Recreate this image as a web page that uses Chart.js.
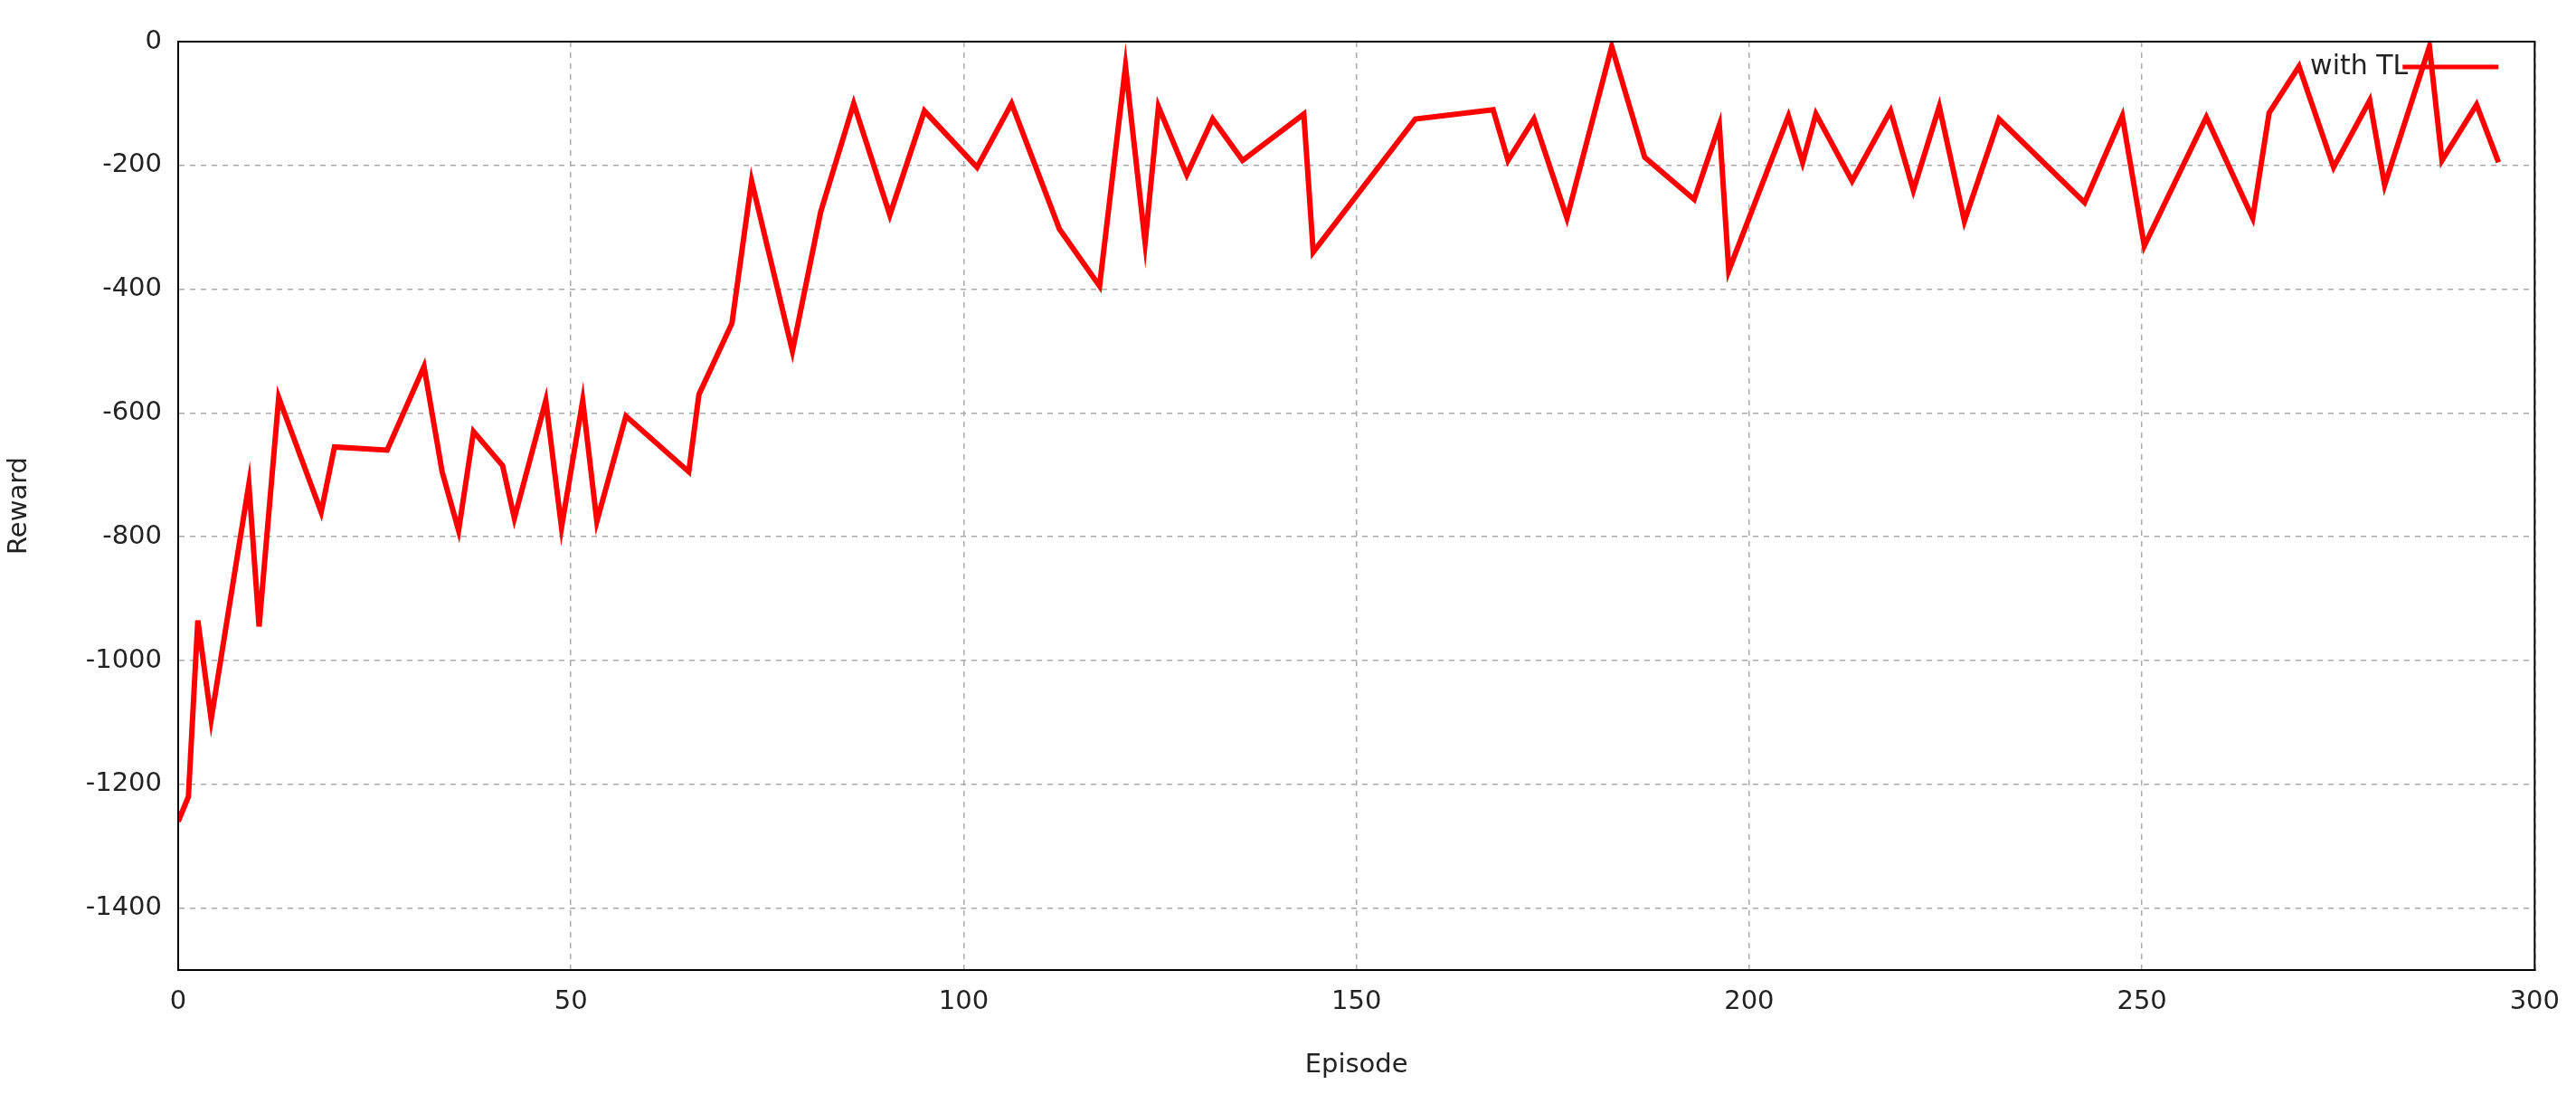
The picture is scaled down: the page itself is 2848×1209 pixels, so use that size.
<!DOCTYPE html>
<html><head><meta charset="utf-8">
<script src="https://cdn.jsdelivr.net/npm/chart.js@4/dist/chart.umd.min.js"></script>
<style>html,body{margin:0;padding:0;background:#fff}#wrap{width:2848px;height:1209px}</style>
</head><body><div id="wrap"><canvas id="c" width="2848" height="1209"></canvas></div>
<script>
const episodes = [0,1.3,2.5,4.2,9,10.3,12.8,18.2,19.9,26.6,31.3,33.6,35.7,37.6,41.3,42.8,46.8,48.8,51.5,53.3,57,65,66.3,70.5,73,78.2,81.8,86,90.6,95,101.7,106.1,112.2,117.3,120.6,123.1,124.8,128.4,131.7,135.5,143.3,144.5,157.5,167.4,169.3,172.6,176.8,182.5,186.7,193,196.2,197.4,205,206.8,208.5,213.1,218,220.9,224.2,227.4,231.8,242.7,247.5,250.3,258.2,264.1,266.2,270,274.4,279,280.9,286.6,288.2,292.6,295.4];
const rewards = [-1260,-1220,-935,-1095,-715,-945,-575,-760,-655,-660,-525,-695,-790,-630,-685,-770,-580,-785,-580,-775,-605,-695,-570,-455,-225,-500,-275,-100,-280,-112,-203,-100,-303,-395,-40,-325,-105,-215,-125,-192,-117,-340,-125,-110,-192,-125,-285,-8,-187,-255,-135,-370,-120,-195,-117,-225,-112,-240,-105,-290,-125,-260,-120,-330,-122,-285,-115,-40,-203,-95,-232,-8,-192,-102,-195];
const yTicks = [0,-200,-400,-600,-800,-1000,-1200,-1400];
const xTicks = [0,50,100,150,200,250,300];
const seriesName = 'with TL';

const legendPlugin = {
  id:'cornerLegend',
  afterDatasetsDraw(chart){
    const {ctx, chartArea:a} = chart;
    ctx.save();
    ctx.font = '30px "DejaVu Sans", sans-serif';
    ctx.fillStyle = '#222'; ctx.textAlign='right'; ctx.textBaseline='middle';
    const yy = a.top + 28;
    ctx.fillText(seriesName, a.right - 140, yy);
    ctx.strokeStyle = '#ff0000'; ctx.lineWidth = 5;
    ctx.beginPath(); ctx.moveTo(a.right - 146, yy); ctx.lineTo(a.right - 40, yy); ctx.stroke();
    ctx.restore();
  }
};
const font = {family:'"DejaVu Sans", sans-serif', size:29};
new Chart(document.getElementById('c'), {
  type:'line',
  data:{datasets:[{label:seriesName, data:episodes.map((x,i)=>({x, y:rewards[i]})), borderColor:'#ff0000', borderWidth:6, pointRadius:0, tension:0, fill:false}]},
  options:{
    responsive:false, animation:false, devicePixelRatio:1,
    layout:{padding:{left:0, top:46, right:40, bottom:10}},
    plugins:{legend:{display:false}, tooltip:{enabled:false}},
    scales:{
      x:{type:'linear', min:0, max:300,
        afterBuildTicks(s){ s.ticks = xTicks.map(v=>({value:v})); },
        afterFit(s){ s.height = 127; },
        grid:{color:'#aaa', lineWidth:1.5, drawTicks:false},
        border:{display:true, color:'#000', width:2, dash:[6,6]},
        ticks:{color:'#222', font, padding:18, maxRotation:0, callback:v=>String(v)},
        title:{display:true, text:'Episode', color:'#222', font, padding:{top:14}}},
      y:{min:-1500, max:0,
        afterBuildTicks(s){ s.ticks = yTicks.map(v=>({value:v})); },
        afterFit(s){ s.width = 197; },
        grid:{color:'#aaa', lineWidth:1.5, drawTicks:false},
        border:{display:true, color:'#000', width:2, dash:[6,6]},
        ticks:{color:'#222', font, padding:18, callback:v=>String(v)},
        title:{display:true, text:'Reward', color:'#222', font, padding:{bottom:18}}}
    }
  },
  plugins:[legendPlugin, {id:'frame', afterDraw(c){const {ctx,chartArea:a}=c;ctx.save();ctx.setLineDash([]);ctx.strokeStyle='#000';ctx.lineWidth=2;ctx.strokeRect(a.left,a.top,a.right-a.left,a.bottom-a.top);ctx.restore();}}]
});
</script></body></html>
